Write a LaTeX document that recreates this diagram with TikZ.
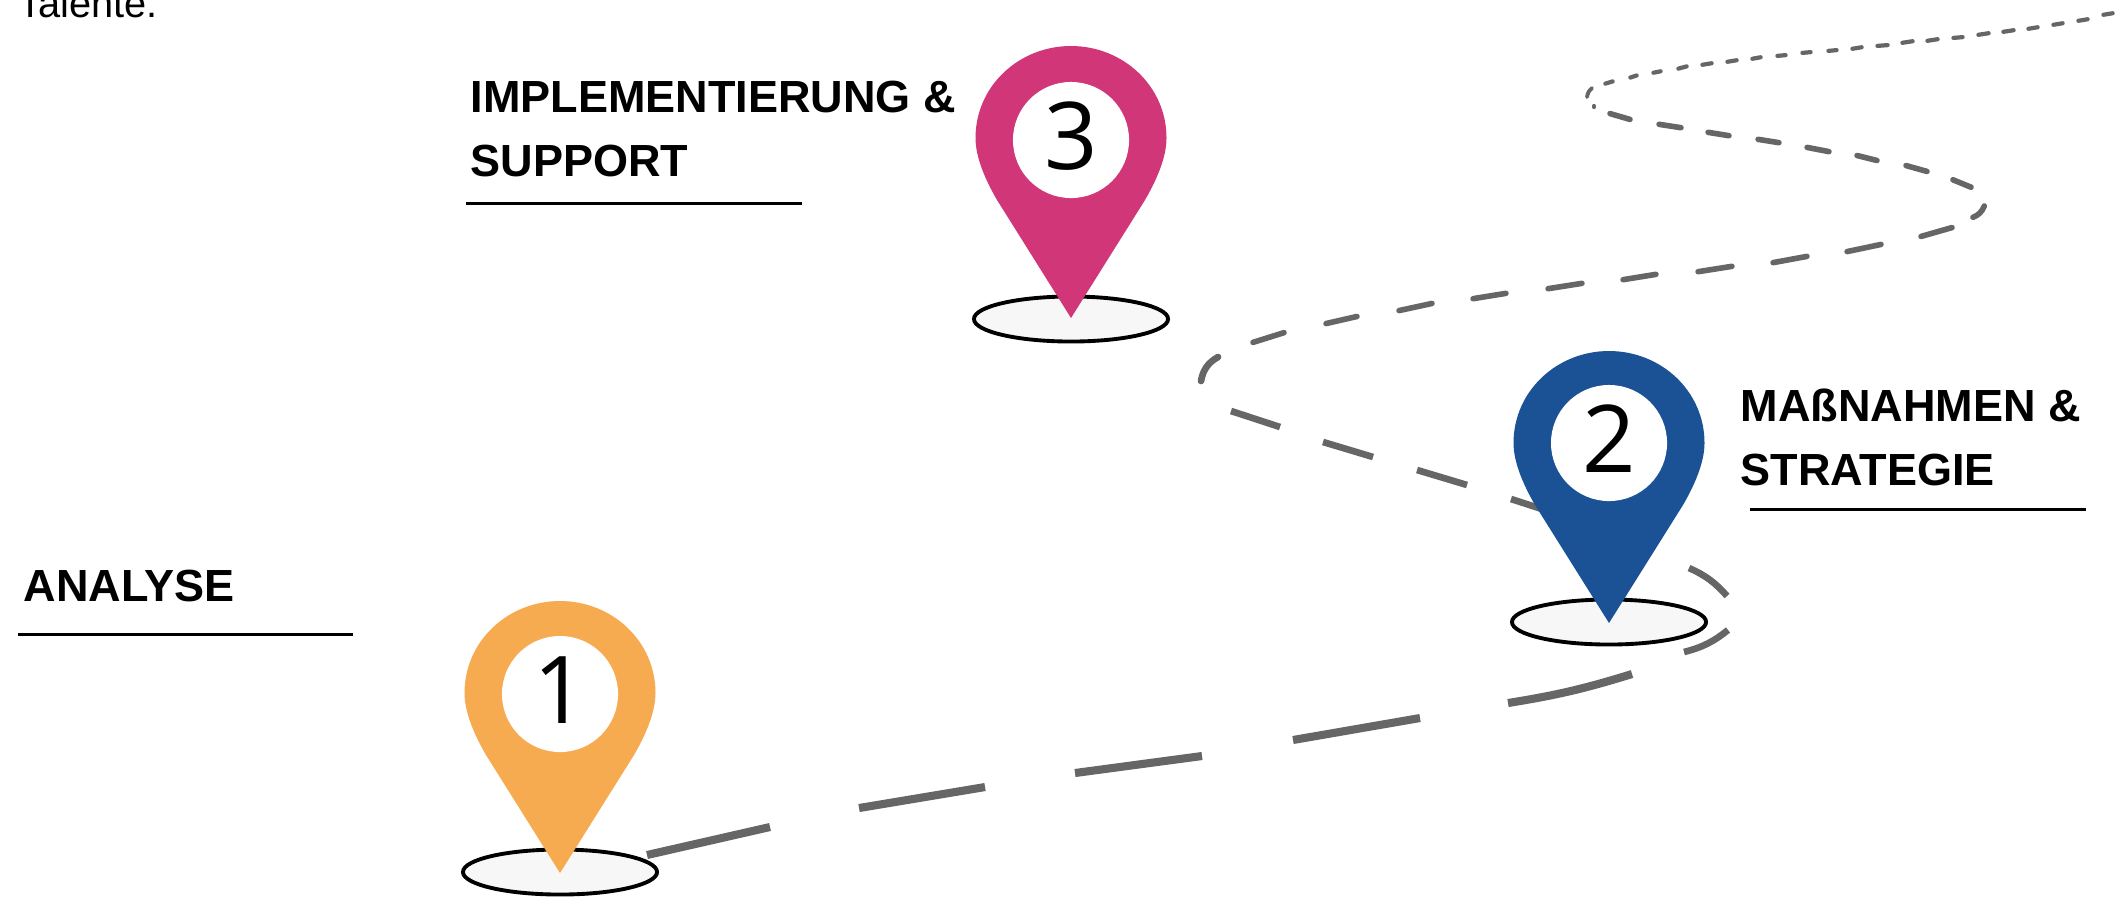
\documentclass[tikz,border=0pt]{standalone}
\usepackage{fontspec}
\setmainfont{Liberation Sans}
\newfontfamily\numfont{Open Sans}
\usetikzlibrary{positioning,shapes.geometric}

\definecolor{pinorange}{HTML}{F7AB50}
\definecolor{pinblue}{HTML}{1B5296}
\definecolor{pinpink}{HTML}{D13679}
\definecolor{roadgray}{HTML}{666666}
\definecolor{basegray}{HTML}{F7F7F7}

\tikzset{
    title/.style={anchor=base west,inner sep=0pt,align=left,font=\fontsize{12.8pt}{18.2pt}\selectfont\bfseries},
    rule/.style={line width=0.85pt},
    road/.style={draw=roadgray},
    roadA/.style={road,line width=2.3pt},
    roadB/.style={road,line width=1.9pt},
    roadC/.style={road,line width=1.6pt,line cap=round,shorten >=0.6pt,shorten <=0.6pt},
    roadD/.style={road,line width=1.2pt,line cap=round,shorten >=0.4pt,shorten <=0.4pt},
    base/.style={ellipse,draw=black,fill=basegray,line width=1.1pt,inner sep=0pt,minimum width=1.94cm,minimum height=0.45cm},
    pinnum/.style={circle,fill=white,inner sep=0pt,minimum size=1.16cm,text depth=2.3pt,font=\fontsize{26.6pt}{30pt}\numfont},
    pinbody/.pic={
        \fill[pic actions] (0,180) -- (-74,62) .. controls (-85,43) and (-95.5,20) .. (-95.5,0)
            .. controls (-95.5,-52) and (-52,-92) .. (0,-92)
            .. controls (52,-92) and (95.5,-52) .. (95.5,0)
            .. controls (95.5,20) and (85,43) .. (74,62) -- cycle;
    }
}

\begin{document}
\begin{tikzpicture}[x=0.01cm,y=-0.01cm]

    \useasboundingbox (0,0) rectangle (2116,896);

    \node[anchor=base west,inner sep=0pt,font=\fontsize{11.3pt}{13pt}\selectfont] (talente) at (18,17) {Talente.};

    % road, bottom to top
    \foreach \ax/\ay/\bx/\by in {647/855/770/827, 859/808/985/787, 1075/773/1202/756, 1293/740/1420/718}
        \draw[roadA] (\ax,\ay) -- (\bx,\by);
    \draw[roadA] (1508,703) to[bend right=4] (1632,674);
    \draw[roadB] (1684,652) to[bend right=12] (1728,630);
    \draw[roadB] (1689,568) to[bend left=12] (1727,596);
    \foreach \ax/\ay/\bx/\by in {1511/499/1545/510, 1417/470/1467/485, 1323/442/1373/457, 1231/411/1280/427}
        \draw[roadB] (\ax,\ay) -- (\bx,\by);
    \draw[roadB,line cap=round] (1201,381) to[bend left=25] (1218,357);
    \foreach \ax/\ay/\bx/\by in {1251/343/1286/332, 1324/324/1359/316, 1397/311/1434/303, 1471/299/1508/293,
        1546/289/1584/283, 1621/280/1658/274, 1696/272/1734/266, 1771/263/1809/256, 1845/252/1883/244, 1919/237/1954/227,
        1973/188/1951/179, 1929/172/1904/165, 1879/161/1855/155, 1831/152/1805/147,
        1781/143/1756/139, 1731/136/1706/132, 1683/128/1657/124, 1632/120/1608/113}
        \draw[roadC] (\ax,\ay) -- (\bx,\by);
    \draw[roadC] (1971,218) to[bend right=25] (1985,204);
    \draw[road,line width=1.2pt,line cap=round] (1594,106) -- (1594,107);
    \draw[road,line width=1.1pt,line cap=round] (1587,97) to[bend left=20] (1592,88);
    \foreach \ax/\ay/\bx/\by in {1604/84/1614/81, 1629/78/1638/75, 1652/73/1662/71, 1677/69/1688/66, 1701/65/1713/63,
        1726/62/1738/60, 1751/59/1762/57, 1776/56/1787/55, 1801/53/1812/52, 1827/51/1838/50, 1851/49/1863/47,
        1876/46/1889/45, 1901/43/1914/41, 1926/41/1939/39, 1952/38/1964/37, 1977/35/1990/33, 2002/32/2015/30,
        2027/29/2039/27, 2052/25/2064/23, 2077/21/2089/19, 2102/15/2114/13}
        \draw[roadD] (\ax,\ay) -- (\bx,\by);

    \node[base] (base_1) at (560,872) {};
    \node[base] (base_2) at (1609,622) {};
    \node[base] (base_3) at (1071,319) {};

    \pic[fill=pinorange] at (560,693) {pinbody};
    \pic[fill=pinblue] at (1609,443) {pinbody};
    \pic[fill=pinpink] at (1071,138) {pinbody};

    \node[pinnum] (num_1) at (560,694) {1};
    \node[pinnum] (num_2) at (1609,443) {2};
    \node[pinnum] (num_3) at (1071,140) {3};

    \node[title] (analyse) at (23,601) {ANALYSE};
    \node[title] (massnahmen) at (1740,485) {MAßNAHMEN \&\\STRATEGIE};
    \node[title] (support) at (470,176) {IMPLEMENTIERUNG \&\\SUPPORT};

    \coordinate (rule_1a) at (18,634);
    \coordinate (rule_1b) at (353,634);
    \coordinate (rule_2a) at (1750,509);
    \coordinate (rule_2b) at (2086,509);
    \coordinate (rule_3a) at (466,203);
    \coordinate (rule_3b) at (802,203);
    \draw[rule] (rule_1a) -- (rule_1b);
    \draw[rule] (rule_2a) -- (rule_2b);
    \draw[rule] (rule_3a) -- (rule_3b);
\end{tikzpicture}
\end{document}
